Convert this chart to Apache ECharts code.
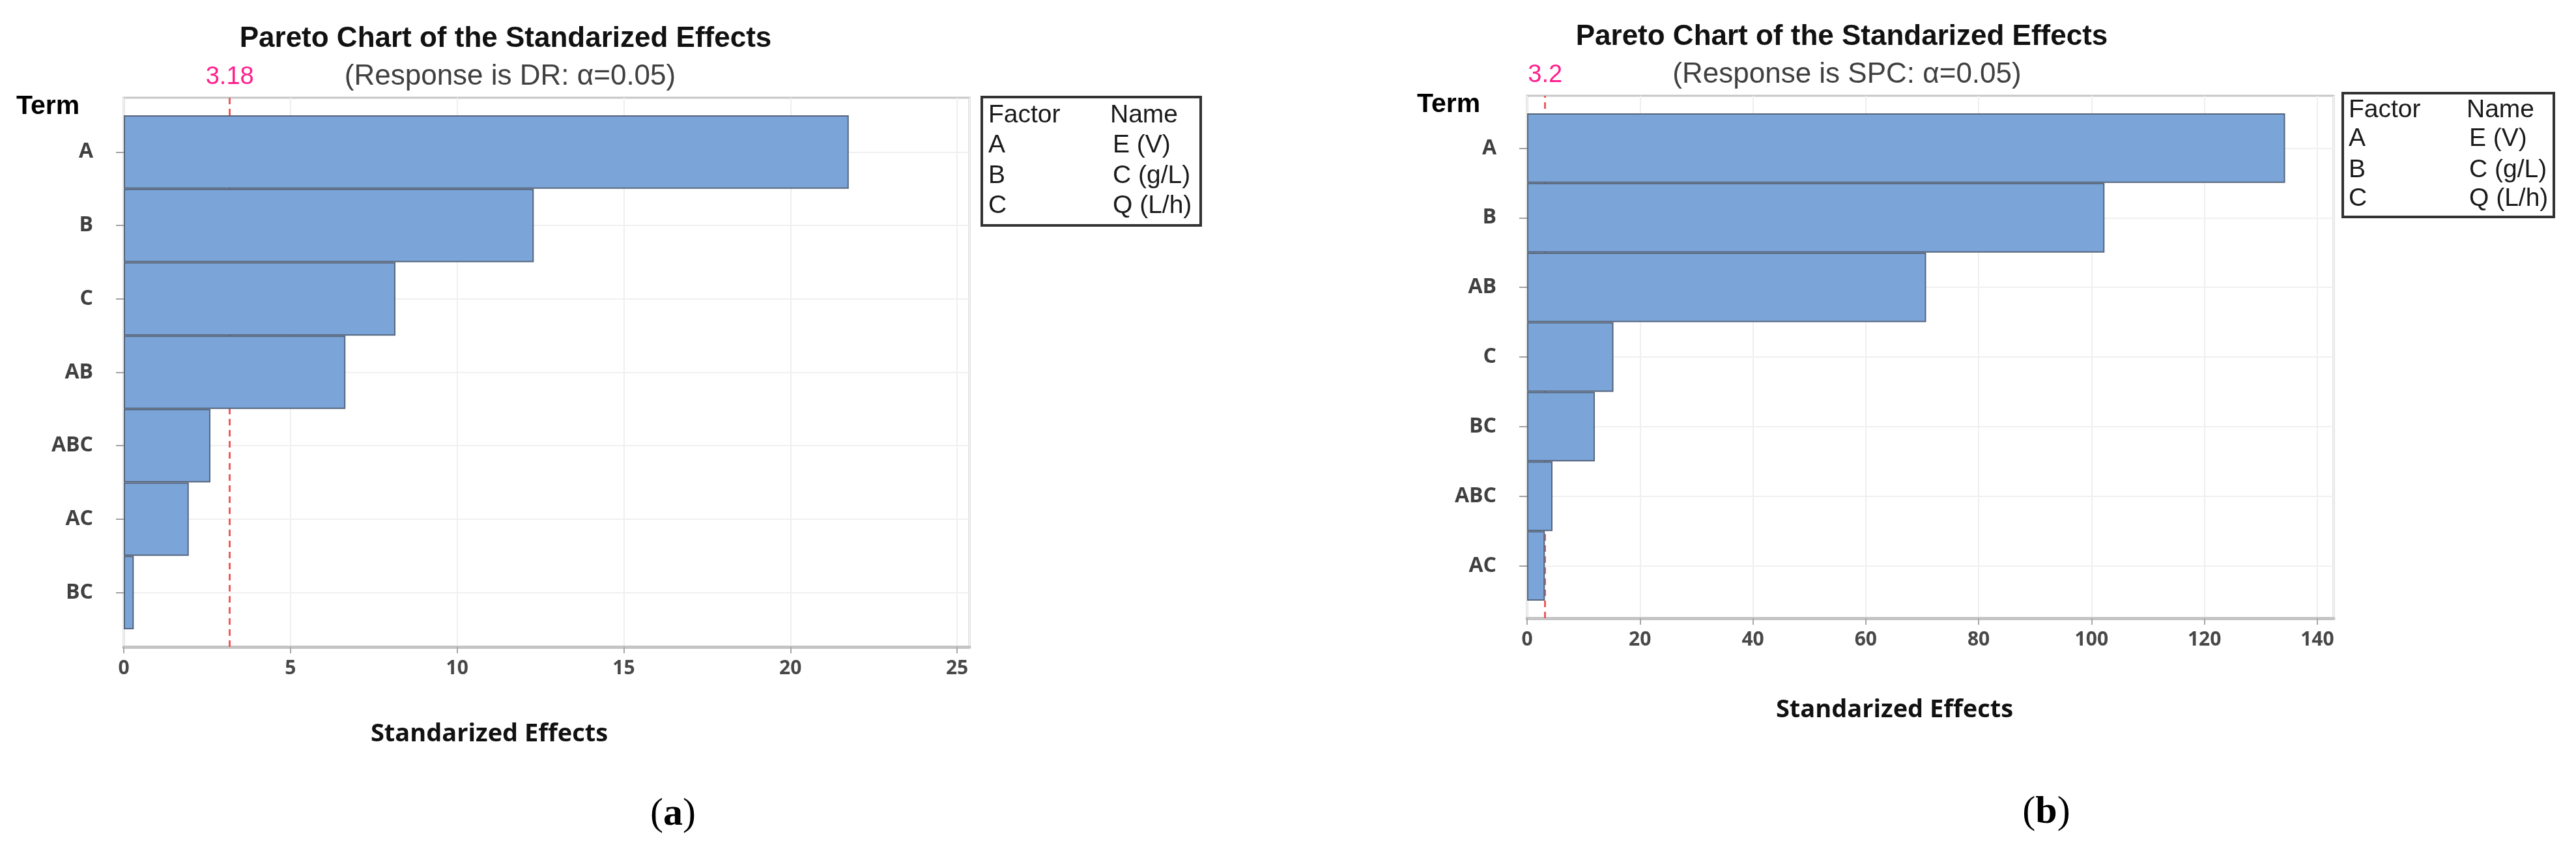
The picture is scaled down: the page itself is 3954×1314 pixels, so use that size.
<!DOCTYPE html>
<html>
<head>
<meta charset="utf-8">
<script src="https://cdn.jsdelivr.net/npm/echarts@6/dist/echarts.min.js"></script>
<style>
html, body { margin: 0; padding: 0; background: #fff; }
#chart { width: 3954px; height: 1314px; }
</style>
</head>
<body>
<div id="chart"></div>
<script>
// data
const termsDR = ['A', 'B', 'C', 'AB', 'ABC', 'AC', 'BC'];
const effectsDR = [21.75, 12.3, 8.15, 6.65, 2.6, 1.95, 0.3];
const critDR = 3.18;

const termsSPC = ['A', 'B', 'AB', 'C', 'BC', 'ABC', 'AC'];
const effectsSPC = [134.3, 102.3, 70.7, 15.3, 12.0, 4.5, 3.15];
const critSPC = 3.2;

const factorLetters = ['A', 'B', 'C'];
const factorNames = ['E (V)', 'C (g/L)', 'Q (L/h)'];

// layout of each panel (pixels)
const panels = [
  {
    terms: termsDR, values: effectsDR, crit: critDR, max: 25.37, interval: 5,
    left: 190, right: 1488, frameTop: 150, frameBottom: 993, barTop: 177, barBottom: 966,
    title: [776, 60], sub: [783, 118], subText: '(Response is DR: α=0.05)',
    term: [25, 164], xname: [751, 1127], tag: [1033, 1250], tagText: 'a',
    box: { x: 1507, y: 149, w: 336, h: 197, c1: 1517, c2: 1704, rows: [177, 223, 270, 316] }
  },
  {
    terms: termsSPC, values: effectsSPC, crit: critSPC, max: 142.9, interval: 20,
    left: 2344, right: 3582, frameTop: 147, frameBottom: 949, barTop: 174, barBottom: 922,
    title: [2827, 57], sub: [2835, 115], subText: '(Response is SPC: α=0.05)',
    term: [2175, 161], xname: [2908, 1090], tag: [3141, 1247], tagText: 'b',
    box: { x: 3596, y: 143, w: 324, h: 190, c1: 3605, c2: 3786, rows: [169, 213, 261, 305] }
  }
];

const grid = [], xAxis = [], yAxis = [], series = [], graphic = [];

const txt = (x, y, text, opt) => ({
  type: 'text', x: x, y: y, silent: true,
  style: Object.assign({
    text: text, fill: '#1a1a1a', align: 'center', verticalAlign: 'middle',
    fontFamily: 'Liberation Sans', fontSize: 40
  }, opt || {})
});

panels.forEach((p, i) => {
  const f = 2 * i, b = 2 * i + 1;
  const w = p.right - p.left;

  // frame grid (border, x axis, reference line)
  grid.push({
    left: p.left, top: p.frameTop, width: w, height: p.frameBottom - p.frameTop,
    show: true, borderColor: '#c6c6c6', borderWidth: 3, backgroundColor: '#fff'
  });
  // bar grid
  grid.push({ left: p.left, top: p.barTop, width: w, height: p.barBottom - p.barTop });

  xAxis.push({
    gridIndex: f, type: 'value', min: 0, max: p.max, interval: p.interval,
    axisLine: { show: true, lineStyle: { color: '#c4c4c4', width: 5 } },
    axisTick: { show: true, length: 10, lineStyle: { color: '#a8a8a8', width: 2 } },
    axisLabel: {
      color: '#484848', fontFamily: 'Open Sans', fontWeight: 'bold', fontSize: 30, margin: 18,
      showMaxLabel: false,
      formatter: v => (v % p.interval === 0 ? String(v) : '')
    },
    splitLine: { show: true, lineStyle: { color: '#efefef', width: 2 } }
  });
  xAxis.push({ gridIndex: b, type: 'value', min: 0, max: p.max, show: false });

  yAxis.push({ gridIndex: f, type: 'value', min: 0, max: 1, show: false });
  yAxis.push({
    gridIndex: b, type: 'category', inverse: true, data: p.terms,
    axisLine: { show: false },
    axisTick: { show: true, alignWithLabel: true, length: 12, lineStyle: { color: '#a0a0a0', width: 2 } },
    axisLabel: { color: '#404040', fontFamily: 'Open Sans', fontWeight: 'bold', fontSize: 32, margin: 47 },
    splitLine: { show: false }
  });

  // faint row lines at the term centres (behind the bars)
  series.push({
    type: 'scatter', xAxisIndex: b, yAxisIndex: b, data: [], z: 1,
    markLine: {
      z: 1, silent: true, symbol: 'none', label: { show: false },
      lineStyle: { type: 'solid', color: '#f0f0f0', width: 2 },
      data: p.terms.map(t => ({ yAxis: t }))
    }
  });

  // critical value line (behind the bars)
  series.push({
    type: 'scatter', xAxisIndex: f, yAxisIndex: f, data: [], z: 1,
    markLine: {
      z: 1, silent: true, symbol: 'none',
      lineStyle: { type: [10, 7], color: '#f05a5a', width: 3 },
      label: {
        show: true, position: 'end', formatter: String(p.crit), distance: 12,
        color: '#ff1f8e', fontFamily: 'Liberation Sans', fontSize: 38
      },
      data: [{ xAxis: p.crit }]
    }
  });

  series.push({
    type: 'bar', xAxisIndex: b, yAxisIndex: b, data: p.values, z: 3,
    barCategoryGap: '0%',
    itemStyle: { color: '#7ba5d8', borderColor: '#56657c', borderWidth: 2 }
  });

  // texts
  graphic.push(txt(p.title[0], p.title[1], 'Pareto Chart of the Standarized Effects',
    { fontWeight: 'bold', fontSize: 44, fill: '#111' }));
  graphic.push(txt(p.sub[0], p.sub[1], p.subText, { fontSize: 44, fill: '#404040' }));
  graphic.push(txt(p.term[0], p.term[1], 'Term', { align: 'left', fontWeight: 'bold', fontSize: 41, fill: '#000' }));
  graphic.push(txt(p.xname[0], p.xname[1], 'Standarized Effects',
    { fontFamily: 'Open Sans', fontWeight: 'bold', fontSize: 38, fill: '#111' }));
  graphic.push({
    type: 'text', x: p.tag[0], y: p.tag[1], silent: true,
    style: {
      text: '{n|(}{b|' + p.tagText + '}{n|)}', align: 'center', verticalAlign: 'middle',
      rich: {
        n: { fontFamily: 'Liberation Serif', fontSize: 60, fill: '#000' },
        b: { fontFamily: 'Liberation Serif', fontSize: 60, fontWeight: 'bold', fill: '#000' }
      }
    }
  });

  // factor table
  const bx = p.box;
  graphic.push({
    type: 'rect', silent: true,
    shape: { x: bx.x, y: bx.y, width: bx.w, height: bx.h },
    style: { fill: '#fff', stroke: '#333', lineWidth: 4 }
  });
  graphic.push(txt(bx.c1, bx.rows[0], 'Factor', { align: 'left', fontSize: 39 }));
  graphic.push(txt(bx.c2, bx.rows[0], 'Name', { align: 'left', fontSize: 39 }));
  factorLetters.forEach((l, k) => {
    graphic.push(txt(bx.c1, bx.rows[k + 1], l, { align: 'left', fontSize: 39 }));
    graphic.push(txt(bx.c2 + 4, bx.rows[k + 1], factorNames[k], { align: 'left', fontSize: 39 }));
  });
});

const chart = echarts.init(document.getElementById('chart'));
chart.setOption({
  animation: false,
  backgroundColor: '#fff',
  grid: grid,
  xAxis: xAxis,
  yAxis: yAxis,
  series: series,
  graphic: graphic
});
</script>
</body>
</html>
